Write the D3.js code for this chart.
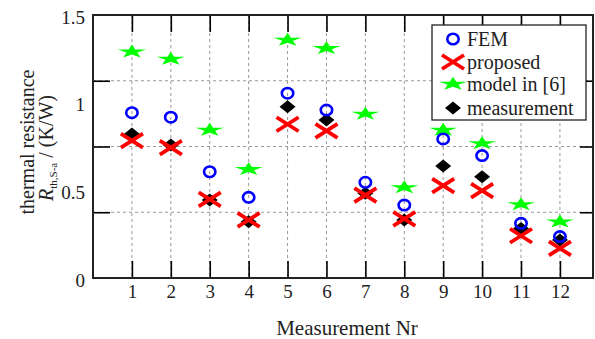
<!DOCTYPE html>
<html>
<head>
<meta charset="utf-8">
<style>
  body { margin: 0; background: #fff; }
</style>
</head>
<body>
<svg width="595" height="339"></svg>
<script src="https://d3js.org/d3.v7.min.js"></script>
<script>
  var nr = [1, 2, 3, 4, 5, 6, 7, 8, 9, 10, 11, 12];
  var fem = [0.943, 0.917, 0.606, 0.460, 1.054, 0.958, 0.546, 0.416, 0.793, 0.698, 0.312, 0.236];
  var proposed = [0.783, 0.743, 0.449, 0.331, 0.877, 0.839, 0.473, 0.337, 0.527, 0.498, 0.241, 0.169];
  var model6 = [1.291, 1.249, 0.844, 0.620, 1.358, 1.310, 0.936, 0.517, 0.844, 0.768, 0.420, 0.321];
  var measurement = [0.821, 0.759, 0.445, 0.321, 0.977, 0.901, 0.483, 0.331, 0.639, 0.578, 0.283, 0.217];
  var yTickLabels = [0, 0.5, 1, 1.5];
  var yGrid = [0.375, 0.75, 1.125];

  var svg = d3.select("svg"),
      margin = {top: 15, right: 2, bottom: 61, left: 93},
      width = +svg.attr("width") - margin.left - margin.right,
      height = +svg.attr("height") - margin.top - margin.bottom,
      g = svg.append("g").attr("transform", "translate(" + margin.left + "," + margin.top + ")");

  var ff = "'Liberation Serif', 'Times New Roman', Times, 'DejaVu Serif', serif";

  var x = d3.scaleLinear().domain([0, 12.85]).range([0, width]);
  var y = d3.scaleLinear().domain([0, 1.5]).range([height, 0]);

  // grid
  g.append("g").selectAll("line").data(nr).join("line")
      .attr("x1", function(d) { return x(d); }).attr("x2", function(d) { return x(d); })
      .attr("y1", 0).attr("y2", height)
      .attr("stroke", "#999").attr("stroke-dasharray", "3,3");
  g.append("g").selectAll("line").data(yGrid).join("line")
      .attr("y1", function(d) { return y(d); }).attr("y2", function(d) { return y(d); })
      .attr("x1", 0).attr("x2", width)
      .attr("stroke", "#999").attr("stroke-dasharray", "3,3");

  // ticks (inward, all four sides)
  var tl = 17;
  g.append("g").attr("transform", "translate(0," + height + ")")
      .call(d3.axisBottom(x).tickValues(nr).tickSize(-tl).tickPadding(7).tickFormat(d3.format("d")))
      .call(function(a) { a.select(".domain").remove(); a.selectAll("line").attr("stroke-width", 1.6); a.selectAll("text").attr("font-size", 19).attr("font-family", ff).attr("fill", "#222"); });
  g.append("g")
      .call(d3.axisTop(x).tickValues(nr).tickSize(-tl).tickFormat(""))
      .call(function(a) { a.select(".domain").remove(); a.selectAll("line").attr("stroke-width", 1.6); });
  g.append("g")
      .call(d3.axisLeft(y).tickValues(yGrid).tickSize(-tl).tickFormat(""))
      .call(function(a) { a.select(".domain").remove(); a.selectAll("line").attr("stroke-width", 1.6); });
  g.append("g").attr("transform", "translate(" + width + ",0)")
      .call(d3.axisRight(y).tickValues(yGrid).tickSize(-13).tickFormat(""))
      .call(function(a) { a.select(".domain").remove(); a.selectAll("line").attr("stroke-width", 1.6); });

  // y tick labels (not on tick marks, as in the original)
  g.append("g").selectAll("text").data(yTickLabels).join("text")
      .attr("x", -8).attr("y", function(d) { return y(d) + 2; })
      .attr("dy", "0.35em").attr("text-anchor", "end").attr("font-size", 19)
      .attr("font-family", ff).attr("fill", "#222")
      .text(function(d) { return d; });

  g.append("rect").attr("width", width).attr("height", height)
      .attr("fill", "none").attr("stroke", "#222").attr("stroke-width", 2);

  // markers
  var star = d3.symbol().type(d3.symbolStar).size(90);
  function drawDiamond(sel) {
    sel.append("path").attr("d", "M0,-6.5L8,0L0,6.5L-8,0Z").attr("fill", "#000");
  }
  function drawCross(sel) {
    sel.append("path").attr("d", "M-11,-7L11,7M-11,7L11,-7")
        .attr("stroke", "#ff0000").attr("stroke-width", 3.8).attr("fill", "none");
  }
  function drawStar(sel) {
    sel.append("path").attr("d", star()).attr("transform", "scale(1.65,0.8)").attr("fill", "#00ff00");
  }
  function drawCircle(sel) {
    sel.append("ellipse").attr("rx", 5.7).attr("ry", 5.2).attr("fill", "none")
        .attr("stroke", "#0000ff").attr("stroke-width", 2.6);
  }

  function series(vals, draw) {
    g.append("g").selectAll("g").data(vals).join("g")
        .attr("transform", function(d, i) { return "translate(" + x(nr[i]) + "," + y(d) + ")"; })
        .each(function() { draw(d3.select(this)); });
  }
  series(measurement, drawDiamond);
  series(proposed, drawCross);
  series(model6, drawStar);
  series(fem, drawCircle);

  // legend
  var lg = svg.append("g").attr("transform", "translate(432,25)");
  lg.append("rect").attr("width", 154).attr("height", 95)
      .attr("fill", "#fff").attr("stroke", "#222").attr("stroke-width", 1.3);
  var items = [
    {name: "FEM", draw: drawCircle, y: 14},
    {name: "proposed", draw: drawCross, y: 37},
    {name: "model in [6]", draw: drawStar, y: 59},
    {name: "measurement", draw: drawDiamond, y: 83}
  ];
  items.forEach(function(it) {
    var row = lg.append("g").attr("transform", "translate(0," + it.y + ")");
    it.draw(row.append("g").attr("transform", "translate(21,0)"));
    row.append("text").attr("x", 35).attr("dy", "0.35em").attr("font-size", 20)
        .attr("font-family", ff).attr("fill", "#222").text(it.name);
  });

  // axis titles
  svg.append("text").attr("x", margin.left + width / 2 + 4).attr("y", 328)
      .attr("dy", "0.35em").attr("text-anchor", "middle").attr("font-size", 21)
      .attr("font-family", ff).attr("fill", "#222")
      .text("Measurement Nr");

  var yl = svg.append("text").attr("transform", "translate(27,142) rotate(-90)")
      .attr("text-anchor", "middle").attr("font-size", 20).attr("font-family", ff).attr("fill", "#222");
  yl.append("tspan").attr("x", 0).attr("dy", "0.35em").text("thermal resistance");
  var yl2 = svg.append("text").attr("transform", "translate(46,148) rotate(-90)")
      .attr("text-anchor", "middle").attr("font-size", 20).attr("font-family", ff).attr("fill", "#222");
  yl2.append("tspan").attr("dy", "0.35em").attr("font-style", "italic").text("R");
  yl2.append("tspan").attr("font-size", 11).attr("dy", 4).text("th,S-a");
  yl2.append("tspan").attr("dy", -4).text(" / (K/W)");
</script>
</body>
</html>
